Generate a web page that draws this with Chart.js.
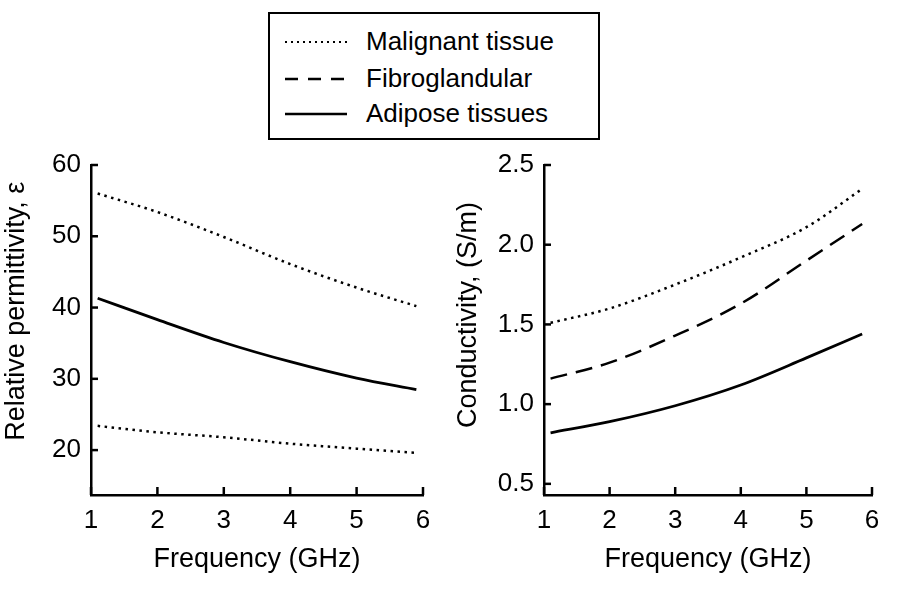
<!DOCTYPE html>
<html>
<head>
<meta charset="utf-8">
<script src="https://cdn.jsdelivr.net/npm/chart.js@4.4.0/dist/chart.umd.min.js"></script>
<style>
  body { margin: 0; background: #fff; width: 903px; height: 602px; overflow: hidden; position: relative; font-family: "Liberation Sans", Arial, sans-serif; }
  .box { position: absolute; }
  #legend { left: 268px; top: 12px; width: 328px; height: 124px; border: 2px solid #000; }
  #legend .row { position: absolute; left: 0; height: 30px; line-height: 30px; font-size: 26px; color: #000; }
  #legend svg { position: absolute; left: 15px; top: 14px; }
  #legend span { position: absolute; left: 96px; white-space: nowrap; }
</style>
</head>
<body>
<div id="legend" class="box"></div>
<div class="box" style="left:0;top:150px;width:450px;height:452px"><canvas id="left"></canvas></div>
<div class="box" style="left:440px;top:150px;width:463px;height:452px"><canvas id="right"></canvas></div>
<script>
// legend entries
const legendNames = ['Malignant tissue', 'Fibroglandular', 'Adipose tissues'];

// left panel: relative permittivity
const freqLeft = [1.1, 2, 3, 4, 5, 5.9];
const permTop = [56.0, 53.4, 49.9, 46.1, 42.8, 40.2];
const permMid = [41.3, 38.3, 35.1, 32.4, 30.1, 28.5];
const permLow = [23.4, 22.5, 21.8, 20.9, 20.2, 19.6];
const permTicks = [20, 30, 40, 50, 60];

// right panel: conductivity
const freqRight = [1.1, 2, 3, 4, 5, 5.85];
const condMalignant = [1.51, 1.60, 1.75, 1.92, 2.11, 2.35];
const condFibro = [1.16, 1.26, 1.43, 1.63, 1.90, 2.13];
const condAdipose = [0.82, 0.89, 0.99, 1.12, 1.29, 1.44];
const condTicks = [0.5, 1.0, 1.5, 2.0, 2.5];

const freqTicks = [1, 2, 3, 4, 5, 6];

const DOT = [2.5, 4.5];
const DASH = [17, 9];

// legend box
const legendStyles = [
    { dash: '2 4', w: 2 },
    { dash: '13 10', w: 2.5 },
    { dash: '', w: 2.5 }
];
const legendEl = document.getElementById('legend');
const rowTops = [12, 49, 84];
legendNames.forEach((name, i) => {
    const row = document.createElement('div');
    row.className = 'row';
    row.style.top = rowTops[i] + 'px';
    const st = legendStyles[i];
    row.innerHTML = `<svg width="62" height="4"><line x1="0" y1="2" x2="62" y2="2" stroke="#000" stroke-width="${st.w}" stroke-dasharray="${st.dash}"/></svg><span>${name}</span>`;
    legendEl.appendChild(row);
});

Chart.defaults.font.family = '"Liberation Sans", Arial, sans-serif';
Chart.defaults.font.size = 26;
Chart.defaults.color = '#000';

// ticks pointing into the plot area
const inwardTicks = {
    id: 'inwardTicks',
    afterDraw(chart) {
        const { ctx, chartArea, scales } = chart;
        ctx.save();
        ctx.strokeStyle = '#000';
        ctx.lineWidth = 2.5;
        scales.y.ticks.forEach(t => {
            const y = scales.y.getPixelForValue(t.value);
            ctx.beginPath();
            ctx.moveTo(chartArea.left, y);
            ctx.lineTo(chartArea.left + 7, y);
            ctx.stroke();
        });
        scales.x.ticks.forEach(t => {
            const x = scales.x.getPixelForValue(t.value);
            ctx.beginPath();
            ctx.moveTo(x, chartArea.bottom);
            ctx.lineTo(x, chartArea.bottom - 8);
            ctx.stroke();
        });
        ctx.restore();
    }
};

function toPoints(xs, ys) {
    return xs.map((x, i) => ({ x: x, y: ys[i] }));
}

function makeChart(id, cfg) {
    return new Chart(document.getElementById(id), {
        type: 'line',
        data: { datasets: cfg.datasets },
        options: {
            responsive: true,
            maintainAspectRatio: false,
            animation: false,
            layout: { padding: { top: cfg.padTop, right: cfg.padRight, left: 0, bottom: 0 } },
            elements: {
                point: { radius: 0 },
                line: { cubicInterpolationMode: 'monotone', borderColor: '#000', fill: false }
            },
            plugins: { legend: { display: false }, tooltip: { enabled: false } },
            scales: {
                x: {
                    type: 'linear',
                    min: 1, max: 6,
                    afterBuildTicks: ax => { ax.ticks = freqTicks.map(v => ({ value: v })); },
                    afterFit: ax => { ax.height = 107; },
                    grid: { display: false },
                    border: { display: true, color: '#000', width: 2.5 },
                    ticks: { padding: 5, maxRotation: 0, font: { lineHeight: 1 } },
                    title: { display: true, text: 'Frequency (GHz)', font: { size: 27 }, padding: { top: 0, bottom: 26 } }
                },
                y: {
                    min: cfg.yMin, max: cfg.yMax,
                    afterBuildTicks: ax => { ax.ticks = cfg.yTicks.map(v => ({ value: v })); },
                    afterFit: ax => { ax.width = cfg.yWidth; },
                    grid: { display: false },
                    border: { display: true, color: '#000', width: 2.5 },
                    ticks: { padding: 2, callback: cfg.fmt, font: { lineHeight: 1 } },
                    // leading spaces nudge the centred title upward like the reference
                    title: { display: true, text: cfg.yTitle, font: { size: 27 }, padding: { top: cfg.titlePad, bottom: 0 } }
                }
            }
        },
        plugins: [inwardTicks]
    });
}

makeChart('left', {
    datasets: [
        { label: legendNames[0], data: toPoints(freqLeft, permTop), borderWidth: 2.5, borderDash: DOT },
        { label: legendNames[1], data: toPoints(freqLeft, permMid), borderWidth: 2.8 },
        { label: legendNames[2], data: toPoints(freqLeft, permLow), borderWidth: 2.5, borderDash: DOT }
    ],
    yMin: 13.7, yMax: 60, yTicks: permTicks, yWidth: 91,
    yTitle: '     Relative permittivity, ε', titlePad: 0,
    padTop: 0, padRight: 27,
    fmt: v => String(v)
});

makeChart('right', {
    datasets: [
        { label: legendNames[0], data: toPoints(freqRight, condMalignant), borderWidth: 2.5, borderDash: DOT },
        { label: legendNames[1], data: toPoints(freqRight, condFibro), borderWidth: 2.5, borderDash: DASH },
        { label: legendNames[2], data: toPoints(freqRight, condAdipose), borderWidth: 2.8 }
    ],
    yMin: 0.43, yMax: 2.5, yTicks: condTicks, yWidth: 104,
    yTitle: '    Conductivity, (S/m)', titlePad: 12,
    padTop: 0, padRight: 31,
    fmt: v => Number(v).toFixed(1)
});
</script>
</body>
</html>
